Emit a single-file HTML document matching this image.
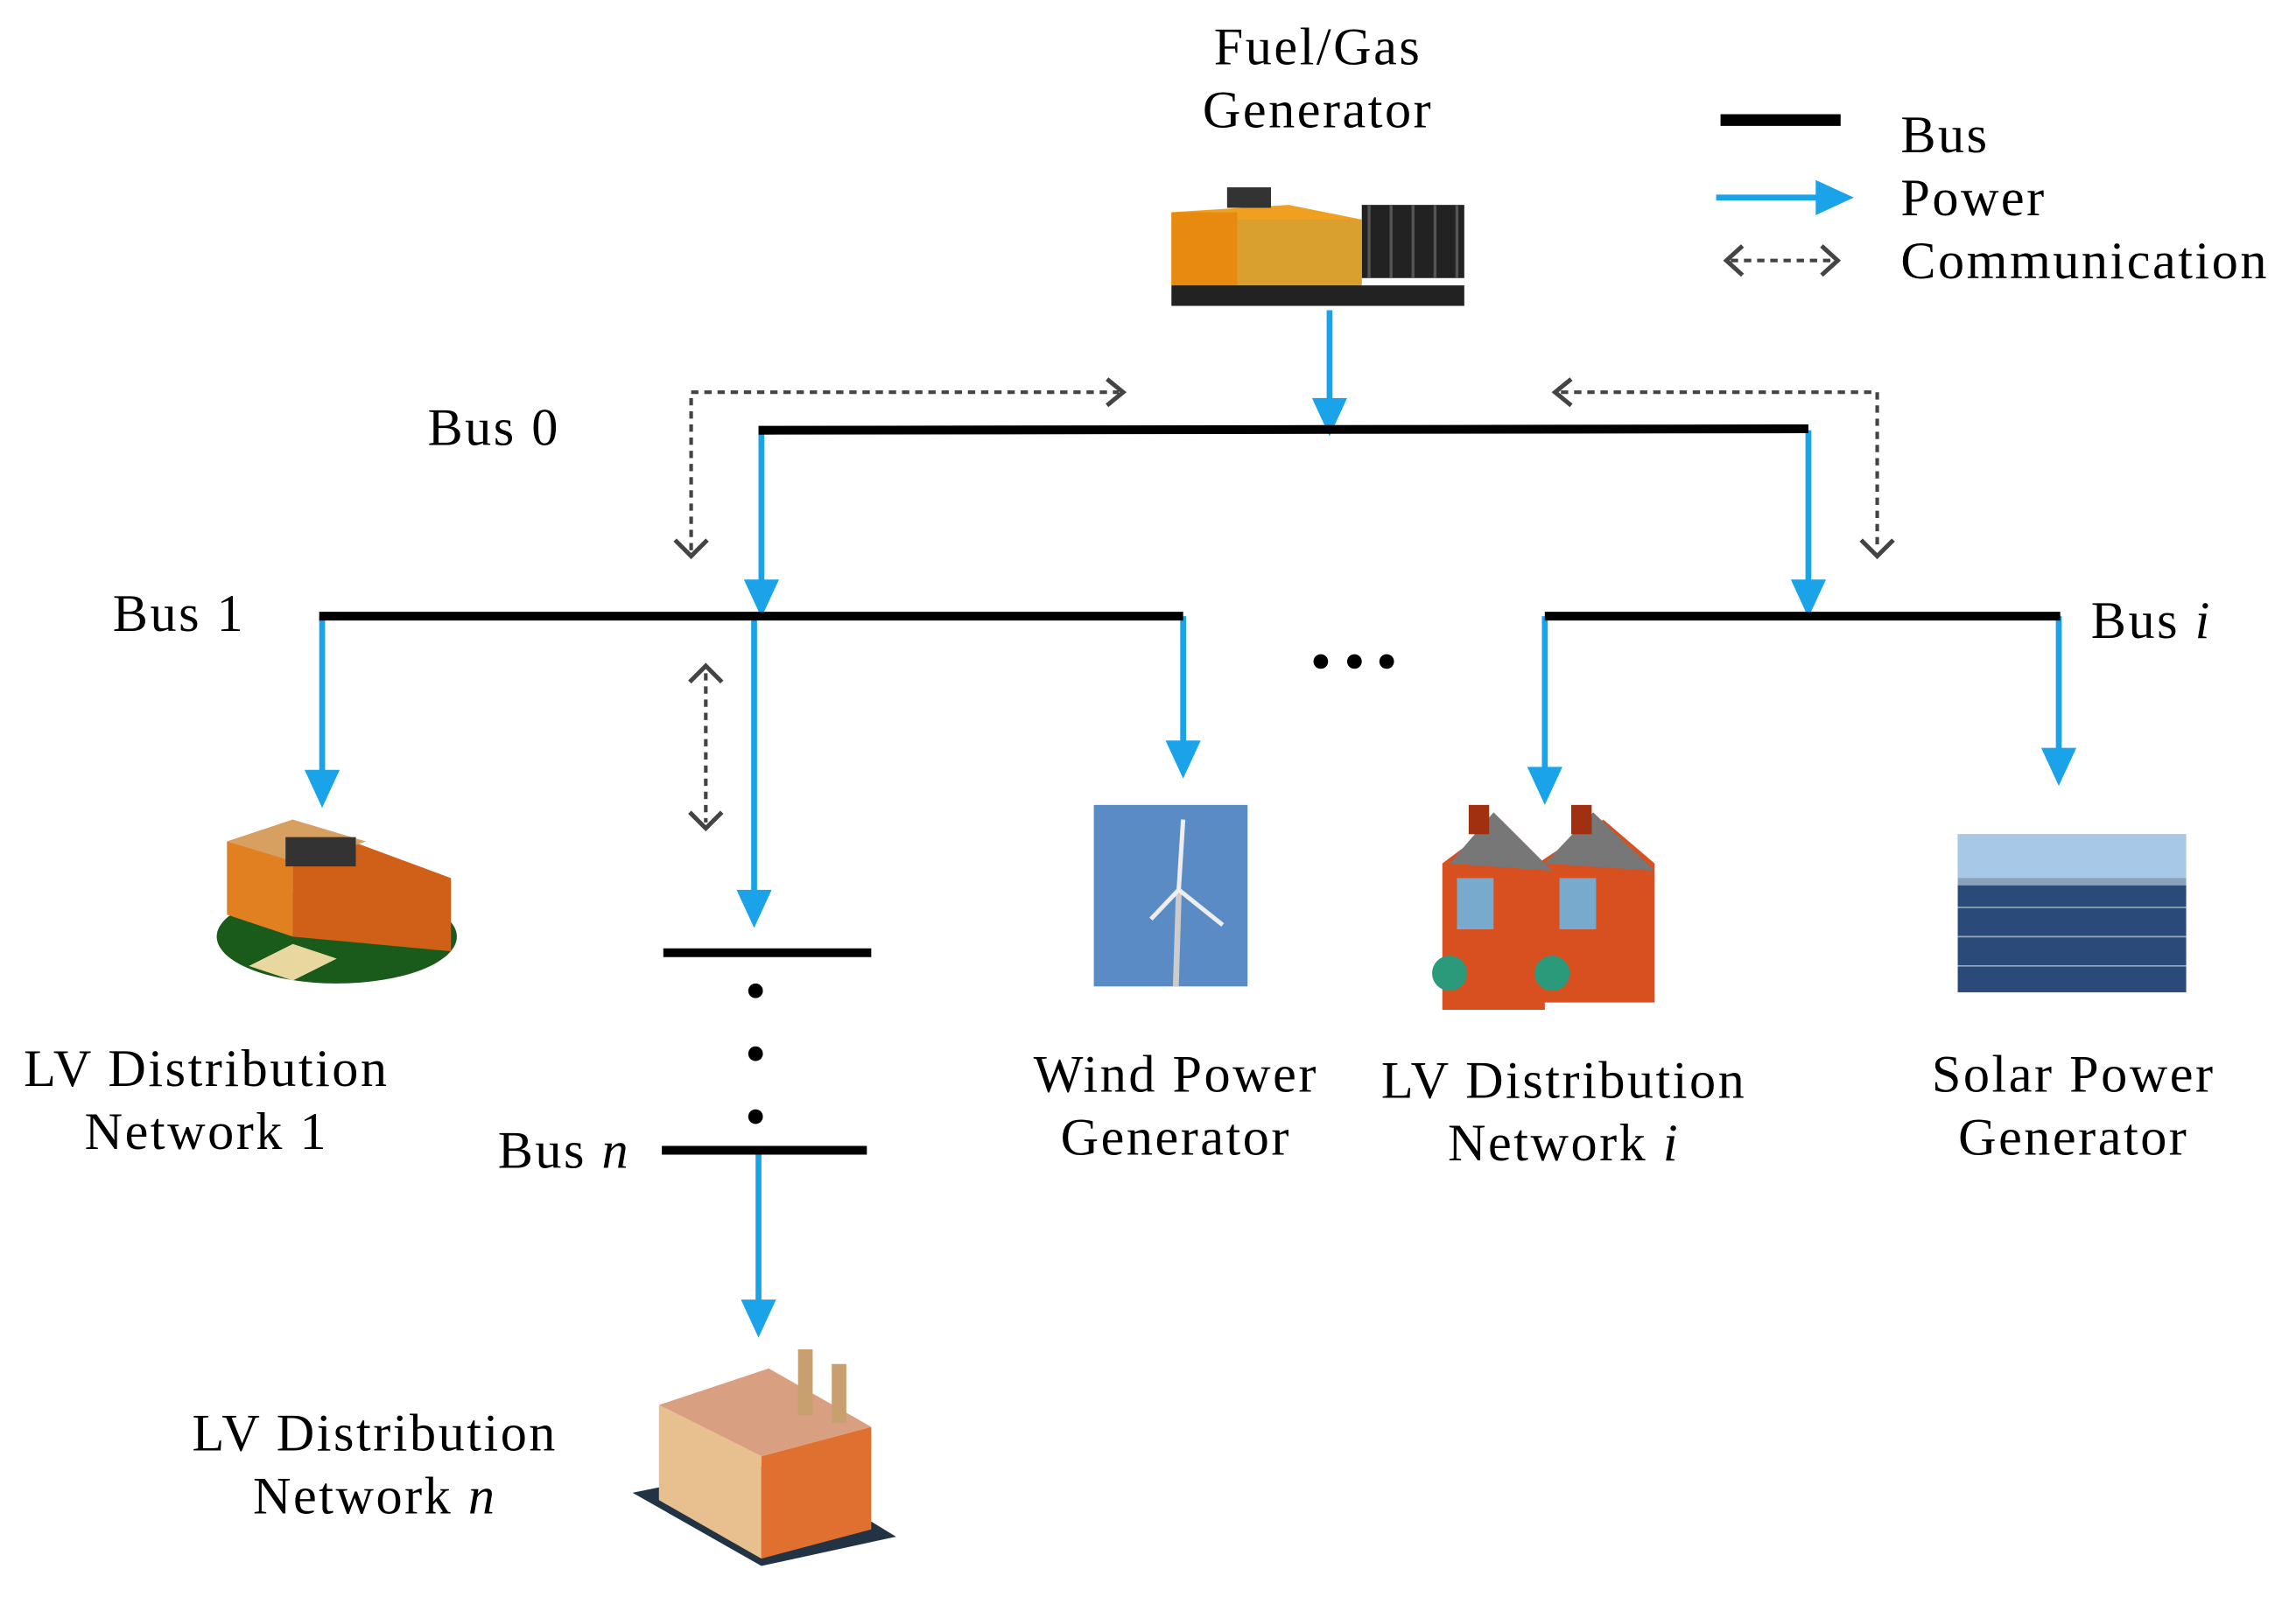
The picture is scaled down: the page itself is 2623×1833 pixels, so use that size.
<!DOCTYPE html>
<html><head><meta charset="utf-8"><style>
html,body{margin:0;padding:0;background:#fff;}
svg{display:block;}
text{font-family:"Liberation Serif",serif;font-size:36px;letter-spacing:1.5px;fill:#000;}
</style></head><body>
<svg width="2623" height="1833" viewBox="0 0 1568 1096" preserveAspectRatio="none" xmlns="http://www.w3.org/2000/svg">
<text x="900" y="44" text-anchor="middle">Fuel/Gas</text>
<text x="900" y="87" text-anchor="middle">Generator</text>
<g>
<rect x="930" y="140" width="70" height="50" fill="#222"/>
<g stroke="#555" stroke-width="2"><line x1="935" y1="140" x2="935" y2="190"/><line x1="950" y1="140" x2="950" y2="190"/><line x1="965" y1="140" x2="965" y2="190"/><line x1="980" y1="140" x2="980" y2="190"/><line x1="995" y1="140" x2="995" y2="190"/></g>
<polygon points="800,145 880,140 930,150 930,195 880,200 800,195" fill="#f0a020"/>
<rect x="800" y="145" width="45" height="50" fill="#e88a10"/>
<rect x="845" y="150" width="85" height="45" fill="#d9a030"/>
<rect x="838" y="128" width="30" height="14" fill="#333"/>
<rect x="800" y="195" width="200" height="14" fill="#222"/>
</g>
<line x1="1175" y1="82" x2="1257" y2="82" stroke="#000" stroke-width="8"/>
<line x1="1172" y1="135" x2="1245" y2="135" stroke="#1aa3e8" stroke-width="4"/>
<polygon points="1266,135 1240,123 1240,147" fill="#1aa3e8"/>
<line x1="1182" y1="178" x2="1252" y2="178" stroke="#444" stroke-width="2.5" stroke-dasharray="5,4"/>
<polyline points="1190,168 1179,178 1190,188" fill="none" stroke="#444" stroke-width="3"/>
<polyline points="1244,168 1255,178 1244,188" fill="none" stroke="#444" stroke-width="3"/>
<text x="1298" y="104">Bus</text>
<text x="1298" y="147">Power</text>
<text x="1298" y="190">Communication</text>
<g stroke="#1aa3e8" stroke-width="4" fill="none">
<line x1="908" y1="212" x2="908" y2="275"/>
<line x1="520" y1="294" x2="520" y2="400"/>
<line x1="1235" y1="294" x2="1235" y2="400"/>
<line x1="220" y1="421" x2="220" y2="530"/>
<line x1="515" y1="421" x2="515" y2="612"/>
<line x1="808" y1="421" x2="808" y2="510"/>
<line x1="1055" y1="421" x2="1055" y2="528"/>
<line x1="1406" y1="421" x2="1406" y2="515"/>
<line x1="518" y1="786" x2="518" y2="892"/>
</g>
<g fill="#1aa3e8">
<polygon points="908,298 896,272 920,272"/>
<polygon points="520,422 508,396 532,396"/>
<polygon points="1235,422 1223,396 1247,396"/>
<polygon points="220,552 208,526 232,526"/>
<polygon points="515,634 503,608 527,608"/>
<polygon points="808,532 796,506 820,506"/>
<polygon points="1055,550 1043,524 1067,524"/>
<polygon points="1406,537 1394,511 1418,511"/>
<polygon points="518,914 506,888 530,888"/>
</g>
<g stroke="#000" stroke-width="6">
<line x1="518" y1="294" x2="1235" y2="293"/>
<line x1="218" y1="421" x2="808" y2="421"/>
<line x1="1055" y1="421" x2="1407" y2="421"/>
<line x1="453" y1="651" x2="595" y2="651"/>
<line x1="452" y1="786" x2="592" y2="786"/>
</g>
<text x="292" y="304">Bus 0</text>
<text x="77" y="431">Bus 1</text>
<text x="1428" y="436">Bus <tspan font-style="italic">i</tspan></text>
<text x="340" y="798">Bus <tspan font-style="italic">n</tspan></text>
<g fill="#000">
<circle cx="902" cy="452" r="5"/><circle cx="925" cy="452" r="5"/><circle cx="947" cy="452" r="5"/>
<circle cx="516" cy="677" r="5"/><circle cx="516" cy="720" r="5"/><circle cx="516" cy="763" r="5"/>
</g>
<g stroke="#444" stroke-width="2.5" fill="none">
<polyline points="472,376 472,268 764,268" stroke-dasharray="5,4"/>
<polyline points="1066,268 1282,268 1282,376" stroke-dasharray="5,4"/>
<line x1="482" y1="460" x2="482" y2="562" stroke-dasharray="5,4"/>
</g>
<g stroke="#444" stroke-width="3" fill="none">
<polyline points="756,259 767,268 756,277"/>
<polyline points="1073,259 1062,268 1073,277"/>
<polyline points="461,369 472,380 483,369"/>
<polyline points="1271,369 1282,380 1293,369"/>
<polyline points="471,466 482,455 493,466"/>
<polyline points="471,555 482,566 493,555"/>
</g>
<g>
<ellipse cx="230" cy="640" rx="82" ry="32" fill="#1a5a1a"/>
<polygon points="155,575 200,560 200,640 155,625" fill="#e08020"/>
<polygon points="200,560 308,600 308,650 200,640" fill="#d06018"/>
<polygon points="155,575 200,560 250,575 205,590" fill="#d8a060"/>
<rect x="195" y="572" width="48" height="20" fill="#333"/>
<polygon points="170,660 200,645 230,655 200,670" fill="#e8d8a0"/>
</g>
<text x="141" y="742" text-anchor="middle">LV Distribution</text>
<text x="141" y="785" text-anchor="middle">Network 1</text>
<rect x="747" y="550" width="105" height="124" fill="#5b8bc4"/>
<line x1="805" y1="610" x2="803" y2="674" stroke="#ccc" stroke-width="4"/>
<g stroke="#eee" stroke-width="3"><line x1="805" y1="608" x2="808" y2="560"/><line x1="805" y1="608" x2="835" y2="632"/><line x1="805" y1="608" x2="786" y2="628"/></g>
<text x="803" y="746" text-anchor="middle">Wind Power</text>
<text x="803" y="789" text-anchor="middle">Generator</text>
<g>
<polygon points="985,590 1025,560 1055,590 1055,690 985,690" fill="#d85020"/>
<polygon points="1050,590 1095,560 1130,590 1130,685 1050,685" fill="#d85020"/>
<polygon points="990,590 1020,555 1060,595" fill="#777"/>
<polygon points="1055,590 1088,555 1130,595" fill="#777"/>
<rect x="995" y="600" width="25" height="35" fill="#7ac"/>
<rect x="1065" y="600" width="25" height="35" fill="#7ac"/>
<rect x="1003" y="550" width="14" height="20" fill="#a03010"/>
<rect x="1073" y="550" width="14" height="20" fill="#a03010"/>
<circle cx="990" cy="665" r="12" fill="#2a9a7a"/>
<circle cx="1060" cy="665" r="12" fill="#2a9a7a"/>
</g>
<text x="1068" y="750" text-anchor="middle">LV Distribution</text>
<text x="1068" y="793" text-anchor="middle">Network <tspan font-style="italic">i</tspan></text>
<rect x="1337" y="570" width="156" height="108" fill="#8aa0b8"/>
<rect x="1337" y="570" width="156" height="30" fill="#a8c8e8"/>
<rect x="1337" y="605" width="156" height="73" fill="#2a4a7a"/>
<g stroke="#9ab" stroke-width="1"><line x1="1337" y1="620" x2="1493" y2="620"/><line x1="1337" y1="640" x2="1493" y2="640"/><line x1="1337" y1="660" x2="1493" y2="660"/></g>
<text x="1416" y="746" text-anchor="middle">Solar Power</text>
<text x="1416" y="789" text-anchor="middle">Generator</text>
<g>
<polygon points="432,1020 520,1070 612,1050 530,1000" fill="#234"/>
<polygon points="450,960 520,995 520,1065 450,1025" fill="#e8c090"/>
<polygon points="520,995 595,975 595,1045 520,1065" fill="#e07030"/>
<polygon points="450,960 525,935 595,975 520,995" fill="#d8a080"/>
<rect x="545" y="922" width="10" height="45" fill="#c8a070"/>
<rect x="568" y="932" width="10" height="40" fill="#c8a070"/>
</g>
<text x="256" y="991" text-anchor="middle">LV Distribution</text>
<text x="256" y="1034" text-anchor="middle">Network <tspan font-style="italic">n</tspan></text>
</svg>
</body></html>
